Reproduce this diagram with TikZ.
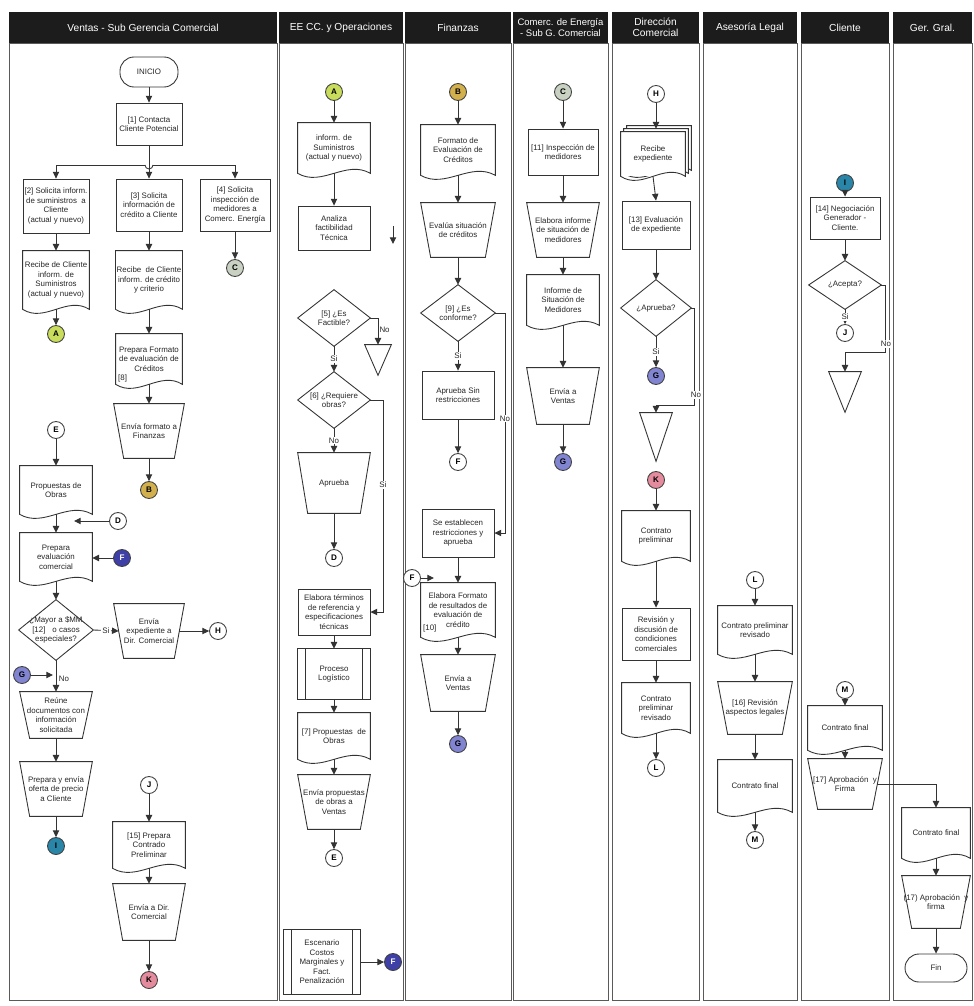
\documentclass[tikz,border=0pt]{standalone}
\usepackage{fontspec}
\setmainfont{Liberation Sans}
\usetikzlibrary{arrows.meta,calc}
\newcommand\fs{\fontsize{4.5}{5.4}\selectfont}
\newcommand\hfs{\fontsize{5.8}{6.6}\selectfont}
\definecolor{hdr}{HTML}{1C1C1C}
\definecolor{lanec}{HTML}{5A5A5A}
\definecolor{cAc}{HTML}{C9DC5C}
\definecolor{cBc}{HTML}{D2B04E}
\definecolor{cCc}{HTML}{C9D2C2}
\definecolor{cFc}{HTML}{3E40A8}
\definecolor{cGc}{HTML}{8184D0}
\definecolor{cIc}{HTML}{2A86A8}
\definecolor{cKc}{HTML}{E48C9E}
\tikzset{
  base/.style={font=\fs, align=center, inner sep=0.5pt, text=black!85},
  sz/.style 2 args={minimum width={#1*0.02cm}, minimum height={#2*0.02cm}},
  box/.style={base, draw=black!80, line width=0.5pt},
  bare/.style={base},
  term/.style={base, draw=black!80, line width=0.5pt, rounded corners=0.28cm},
  shp/.style={line width=0.5pt, draw=black!80},
  ln/.style={line width=0.5pt, draw=black!80},
  arr/.style={line width=0.5pt, draw=black!80, -{Triangle[length=3.8pt,width=3.6pt]}},
  con/.style={circle, draw=black!75, line width=0.5pt, minimum size=0.34cm, inner sep=0pt,
    font=\fontsize{4.6}{5}\selectfont\bfseries, fill=white},
  lbl/.style={font=\fs, inner sep=0.6pt, fill=white, text=black!85},
  htxt/.style={font=\hfs, text=white, align=center, inner sep=0pt},
  lanel/.style={draw=lanec, line width=0.45pt},
}
% outlines drawn around bare nodes
\newcommand\docoff[3]{\draw[shp] ($(#1.south west)+(#2,#3)$) -- ($(#1.north west)+(#2,#3)$) -- ($(#1.north east)+(#2,#3)$) -- ($(#1.south east)+(#2,#3)$) .. controls ($(#1.south east)!.333!(#1.south west)+(#2,#3-14)$) and ($(#1.south east)!.667!(#1.south west)+(#2,#3+14)$) .. ($(#1.south west)+(#2,#3)$) -- cycle;}
\newcommand\docline[1]{\docoff{#1}{0}{0}}
\newcommand\trapline[1]{\draw[shp] (#1.north west) -- (#1.north east) -- ($(#1.south east)+(-10,0)$) -- ($(#1.south west)+(10,0)$) -- cycle;}
\newcommand\diamline[1]{\draw[shp] (#1.north) -- (#1.east) -- (#1.south) -- (#1.west) -- cycle;}
\newcommand\triline[1]{\draw[shp] (#1.north west) -- (#1.north east) -- (#1.south) -- cycle;}
\newcommand\procline[1]{\draw[shp] (#1.north west) rectangle (#1.south east);
  \draw[shp] ($(#1.north west)+(8,0)$) -- ($(#1.south west)+(8,0)$);
  \draw[shp] ($(#1.north east)+(-8,0)$) -- ($(#1.south east)+(-8,0)$);}
\begin{document}
\begin{tikzpicture}[x=0.02cm,y=-0.02cm]
\useasboundingbox (0,0) rectangle (973,1006);
% swimlanes
\foreach \a/\b in {9/277,279/403,405/511,513/608,612/699,703/797,801/889,893/972}{
  \fill[hdr] (\a,12) rectangle (\b,43);
  \draw[lanel] (\a,43) rectangle (\b,1000);
}
\node[htxt] (hv) at (143,27.5) {Ventas - Sub Gerencia Comercial};
\node[htxt] (he) at (341,27.5) {EE CC. y Operaciones};
\node[htxt] (hf) at (458,27.5) {Finanzas};
\node[htxt, font=\fontsize{5.4}{6.4}\selectfont] (hc) at (560.5,27.5) {Comerc. de Energía\\- Sub G. Comercial};
\node[htxt] (hd) at (655.5,27.5) {Dirección\\Comercial};
\node[htxt] (ha) at (750,27.5) {Asesoría Legal};
\node[htxt] (hcl) at (845,27.5) {Cliente};
\node[htxt] (hg) at (932.5,27.5) {Ger. Gral.};

% ---------- Ventas - Sub Gerencia Comercial
\node[term, sz={58}{30}] (ini) at (149,72) {INICIO};
\node[box, sz={66}{42}] (n1) at (149,124) {[1] Contacta\\Cliente Potencial};
\node[box, sz={66}{54}] (n2) at (56,206) {[2] Solicita inform.\\de suministros\ \ a\\Cliente\\(actual y nuevo)};
\node[box, sz={66}{52}] (n3) at (149,205) {[3] Solicita\\información de\\crédito a Cliente};
\node[box, sz={70}{52}] (n4) at (235,205) {[4] Solicita\\inspección de\\medidores a\\Comerc. Energía};
\node[con, fill=cCc] (cC1) at (235,268) {C};
\node[bare, sz={66}{58}] (d1) at (56,280) {Recibe de Cliente\\inform. de\\Suministros\\(actual y nuevo)}; \docline{d1}
\node[con, fill=cAc] (cA1) at (56,334) {A};
\node[bare, sz={66}{58}] (d2) at (149,280) {Recibe\ \ de Cliente\\inform. de crédito\\y criterio}; \docline{d2}
\node[bare, sz={66}{50}] (d3) at (149,359) {Prepara Formato\\de evaluación de\\Créditos}; \docline{d3}
\node[base, anchor=west] (l8) at (117,378) {[8]};
\node[bare, sz={70}{54}] (t1) at (149,431) {Envía formato a\\Finanzas}; \trapline{t1}
\node[con, fill=cBc] (cB1) at (149,490) {B};
\node[con] (cE1) at (56,430) {E};
\node[bare, sz={72}{48}] (d4) at (56,490) {Propuestas de\\Obras}; \docline{d4}
\node[con] (cD1) at (118,521) {D};
\coordinate (dtip) at (74,521);
\node[bare, sz={72}{48}] (d5) at (56,557) {Prepara\\evaluación\\comercial}; \docline{d5}
\node[con, fill=cFc, text=white] (cF1) at (122,558) {F};
\node[bare, sz={74}{60}] (dm1) at (56,630) {¿Mayor a \$MM\\{[12]}\hspace{4pt}o casos\\especiales?}; \diamline{dm1}
\node[bare, sz={70}{54}] (t2) at (149,631) {Envía\\expediente a\\Dir. Comercial}; \trapline{t2}
\node[con] (cH1) at (218,631) {H};
\node[con, fill=cGc] (cG1) at (22,675) {G};
\coordinate (gtip) at (53,675);
\node[bare, sz={72}{46}] (t3) at (56,715) {Reúne\\documentos con\\información\\solicitada}; \trapline{t3}
\node[bare, sz={72}{54}] (t4) at (56,789) {Prepara y envía\\oferta de precio\\a Cliente}; \trapline{t4}
\node[con, fill=cIc] (cI1) at (56,846) {I};
\node[con] (cJ1) at (149,785) {J};
\node[bare, sz={72}{46}] (d6) at (149,845) {[15] Prepara\\Contrado\\Preliminar}; \docline{d6}
\node[bare, sz={72}{56}] (t5) at (149,912) {Envía a Dir.\\Comercial}; \trapline{t5}
\node[con, fill=cKc] (cK1) at (149,980) {K};

\coordinate (hopL) at (145,165);
\coordinate (hopR) at (153,165);
\draw[arr] (ini) -- (n1);
\draw[arr] (n1) -- (n3);
\draw[arr] (hopL) -| (n2.north);
\draw[arr] (hopR) -| (n4.north);
\draw[ln] (hopL) arc[start angle=180, end angle=0, radius=4];
\draw[arr] (n2) -- (d1);
\draw[arr] (d1.south) -- (cA1);
\draw[arr] (n3) -- (d2);
\draw[arr] (d2.south) -- (d3.north);
\draw[arr] (d3.south) -- (t1.north);
\draw[arr] (t1.south) -- (cB1);
\draw[arr] (n4) -- (cC1);
\draw[arr] (cE1) -- (d4);
\draw[arr] (d4.south) -- (d5.north);
\draw[arr] (cD1) -- (dtip);
\draw[arr] (cF1) -- (cF1 -| d5.east);
\draw[arr] (d5.south) -- (dm1.north);
\draw[arr] (dm1.east) -- node[lbl, pos=0.5]{Si} ($(t2.west)+(5,0)$);
\draw[arr] ($(t2.east)+(-5,0)$) -- (cH1);
\draw[arr] (dm1.south) -- (t3.north);
\node[lbl, fill=none] (no1) at (64,679) {No};
\draw[arr] (cG1) -- (gtip);
\draw[arr] (t3.south) -- (t4.north);
\draw[arr] (t4.south) -- (cI1);
\draw[arr] (cJ1) -- (d6);
\draw[arr] (d6.south) -- (t5.north);
\draw[arr] (t5.south) -- (cK1);

% ---------- EE CC. y Operaciones
\node[con, fill=cAc] (cA2) at (334,92) {A};
\node[bare, sz={72}{50}] (d7) at (334,148) {inform. de\\Suministros\\(actual y nuevo)}; \docline{d7}
\node[box, sz={72}{44}] (b5) at (334,228) {Analiza\\factibilidad\\Técnica};
\coordinate (s1) at (393,226);
\coordinate (s2) at (393,244);
\node[bare, sz={72}{56}] (dm5) at (334,318) {[5] ¿Es\\Factible?}; \diamline{dm5}
\node[bare, sz={26}{30}] (tri1) at (378,360) {}; \triline{tri1}
\node[bare, sz={72}{56}] (dm6) at (334,400) {[6] ¿Requiere\\obras?}; \diamline{dm6}
\node[bare, sz={72}{60}] (t6) at (334,483) {Aprueba}; \trapline{t6}
\node[con] (cD2) at (334,558) {D};
\node[box, sz={72}{46}] (b6) at (334,612) {Elabora términos\\de referencia y\\especificaciones\\técnicas};
\node[bare, sz={72}{50}] (p1) at (334,674) {Proceso\\Logístico}; \procline{p1}
\node[bare, sz={72}{46}] (d8) at (334,736) {[7] Propuestas\ \ de\\Obras}; \docline{d8}
\node[bare, sz={72}{54}] (t7) at (334,802) {Envía propuestas\\de obras a\\Ventas}; \trapline{t7}
\node[con] (cE2) at (334,858) {E};
\node[bare, sz={76}{64}] (p2) at (322,962) {Escenario\\Costos\\Marginales y\\Fact.\\Penalización}; \procline{p2}
\node[con, fill=cFc, text=white] (cF2) at (393,962) {F};
\coordinate (k6) at (383,400);

\draw[arr] (cA2) -- (d7);
\draw[arr] (d7.south) -- (b5.north);
\draw[arr] (s1) -- (s2);
\draw[arr] (dm5.east) -| node[lbl, fill=none, pos=0.72, right]{No} (tri1.north);
\draw[arr] (dm5.south) -- node[lbl]{Si} (dm6.north);
\draw[arr] (dm6.south) -- node[lbl]{No} (t6.north);
\draw[arr] (dm6.east) -- (k6) |- node[lbl, pos=0.2]{Si} (b6.east);
\draw[arr] (t6.south) -- (cD2);
\draw[arr] (b6) -- (p1);
\draw[arr] (p1) -- (d8);
\draw[arr] (d8.south) -- (t7.north);
\draw[arr] (t7.south) -- (cE2);
\draw[arr] (p2) -- (cF2);

% ---------- Finanzas
\node[con, fill=cBc] (cB2) at (458,92) {B};
\node[bare, sz={74}{50}] (d9) at (458,150) {Formato de\\Evaluación de\\Créditos}; \docline{d9}
\node[bare, sz={74}{54}] (t8) at (458,230) {Evalúa situación\\de créditos}; \trapline{t8}
\node[bare, sz={74}{56}] (dm9) at (458,313) {[9] ¿Es\\conforme?}; \diamline{dm9}
\node[box, sz={72}{48}] (b9) at (458,395) {Aprueba Sin\\restricciones};
\node[con] (cF3) at (458,462) {F};
\coordinate (k9) at (505,313);
\node[box, sz={72}{48}] (b10) at (458,533) {Se establecen\\restricciones y\\aprueba};
\node[con] (cF4) at (412,578) {F};
\coordinate (ftip) at (434,578);
\node[bare, sz={74}{54}] (d10) at (458,610) {Elabora Formato\\de resultados de\\evaluación de\\crédito}; \docline{d10}
\node[base, anchor=west] (l10) at (422,628) {[10]};
\node[bare, sz={74}{56}] (t9) at (458,683) {Envía a\\Ventas}; \trapline{t9}
\node[con, fill=cGc] (cG2) at (458,744) {G};

\draw[arr] (cB2) -- (d9);
\draw[arr] (d9.south) -- (t8.north);
\draw[arr] (t8.south) -- (dm9.north);
\draw[arr] (dm9.south) -- node[lbl]{Si} (b9.north);
\draw[arr] (b9) -- (cF3);
\draw[arr] (dm9.east) -- (k9) |- node[lbl, pos=0.24]{No} (b10.east);
\draw[arr] (b10) -- (d10);
\draw[arr] (cF4) -- (ftip);
\draw[arr] (d10.south) -- (t9.north);
\draw[arr] (t9.south) -- (cG2);

% ---------- Comerc. de Energía
\node[con, fill=cCc] (cC2) at (563,92) {C};
\node[box, sz={70}{46}] (b11) at (563,152) {[11] Inspección de\\medidores};
\node[bare, sz={72}{54}] (t10) at (563,230) {Elabora informe\\de situación de\\medidores}; \trapline{t10}
\node[bare, sz={72}{50}] (d11) at (563,300) {Informe de\\Situación de\\Medidores}; \docline{d11}
\node[bare, sz={72}{56}] (t11) at (563,396) {Envía a\\Ventas}; \trapline{t11}
\node[con, fill=cGc] (cG3) at (563,462) {G};

\draw[arr] (cC2) -- (b11);
\draw[arr] (b11) -- (t10);
\draw[arr] (t10.south) -- (d11.north);
\draw[arr] (d11.south) -- (t11.north);
\draw[arr] (t11.south) -- (cG3);

% ---------- Dirección Comercial
\node[con] (cH2) at (656,94) {H};
\node[bare, sz={64}{44}] (md1) at (653,154) {};
\docoff{md1}{6}{-6}
\fill[white] ($(md1.north west)+(3,-3)$) rectangle ($(md1.south east)+(3,-3)$);
\docoff{md1}{3}{-3}
\fill[white] (md1.north west) rectangle (md1.south east);
\docline{md1}
\node[base] (md1t) at (md1) {Recibe\\expediente};
\node[box, sz={68}{48}] (b13) at (656,225) {[13] Evaluación\\de expediente};
\node[bare, sz={70}{56}] (dm13) at (656,308) {¿Aprueba?}; \diamline{dm13}
\node[con, fill=cGc] (cG4) at (656,376) {G};
\coordinate (k13a) at (694,308);
\coordinate (k13b) at (694,405);
\coordinate (k13c) at (656,405);
\node[bare, sz={32}{48}] (tri2) at (656,437) {}; \triline{tri2}
\node[con, fill=cKc] (cK2) at (656,480) {K};
\node[bare, sz={68}{50}] (d12) at (656,536) {Contrato\\preliminar}; \docline{d12}
\node[box, sz={68}{52}] (b14) at (656,634) {Revisión y\\discusión de\\condiciones\\comerciales};
\node[bare, sz={68}{50}] (d13) at (656,708) {Contrato\\preliminar\\revisado}; \docline{d13}
\node[con] (cL1) at (656,768) {L};

\draw[arr] (cH2) -- ($(md1.north)+(3,-3)$);
\draw[arr] (md1.south) -- (b13.north);
\draw[arr] (b13) -- (dm13.north);
\draw[arr] (dm13.south) -- node[lbl]{Si} (cG4);
\draw[arr] (dm13.east) -- (k13a) -- (k13b) -- (k13c) -- (tri2.north);
\node[lbl] (no13) at (696,395) {No};
\draw[arr] (cK2) -- (d12);
\draw[arr] (d12.south) -- (b14.north);
\draw[arr] (b14) -- (d13);
\draw[arr] (d13.south) -- (cL1);

% ---------- Asesoría Legal
\node[con] (cL2) at (755,580) {L};
\node[bare, sz={74}{48}] (d14) at (755,630) {Contrato preliminar\\revisado}; \docline{d14}
\node[bare, sz={74}{52}] (t12) at (755,708) {[16] Revisión\\aspectos legales}; \trapline{t12}
\node[bare, sz={74}{52}] (d15) at (755,786) {Contrato final}; \docline{d15}
\node[con] (cM1) at (755,840) {M};

\draw[arr] (cL2) -- (d14);
\draw[arr] (d14.south) -- (t12.north);
\draw[arr] (t12.south) -- (d15.north);
\draw[arr] (d15.south) -- (cM1);

% ---------- Cliente
\node[con, fill=cIc] (cI2) at (845,183) {I};
\node[box, sz={70}{42}] (b15) at (845,218) {[14] Negociación\\Generador -\\Cliente.};
\node[bare, sz={72}{48}] (dm14) at (845,285) {¿Acepta?}; \diamline{dm14}
\node[con] (cJ2) at (845,333) {J};
\coordinate (k14a) at (885,285);
\coordinate (k14b) at (885,352);
\coordinate (k14c) at (845,352);
\node[bare, sz={32}{40}] (tri3) at (845,392) {}; \triline{tri3}
\node[con] (cM2) at (845,690) {M};
\node[bare, sz={74}{44}] (d16) at (845,728) {Contrato final}; \docline{d16}
\node[bare, sz={74}{50}] (t13) at (845,784) {[17] Aprobación\ \ y\\Firma}; \trapline{t13}

\draw[arr] (cI2) -- (b15);
\draw[arr] (b15) -- (dm14.north);
\draw[arr] (dm14.south) -- node[lbl]{Si} (cJ2);
\draw[arr] (dm14.east) -- (k14a) -- (k14b) -- (k14c) -- (tri3.north);
\node[lbl] (no14) at (886,344) {No};
\draw[arr] (cM2) -- (d16);
\draw[arr] (d16.south) -- (t13.north);

% ---------- Ger. Gral.
\node[bare, sz={68}{50}] (d17) at (936,833) {Contrato final}; \docline{d17}
\node[bare, sz={68}{52}] (t14) at (936,902) {(17) Aprobación\ \ y\\firma}; \trapline{t14}
\node[term, sz={62}{28}] (fin) at (936,968) {Fin};

\draw[arr] ($(t13.east)+(-5,0)$) -| (d17.north);
\draw[arr] (d17.south) -- (t14.north);
\draw[arr] (t14.south) -- (fin);
\end{tikzpicture}
\end{document}
